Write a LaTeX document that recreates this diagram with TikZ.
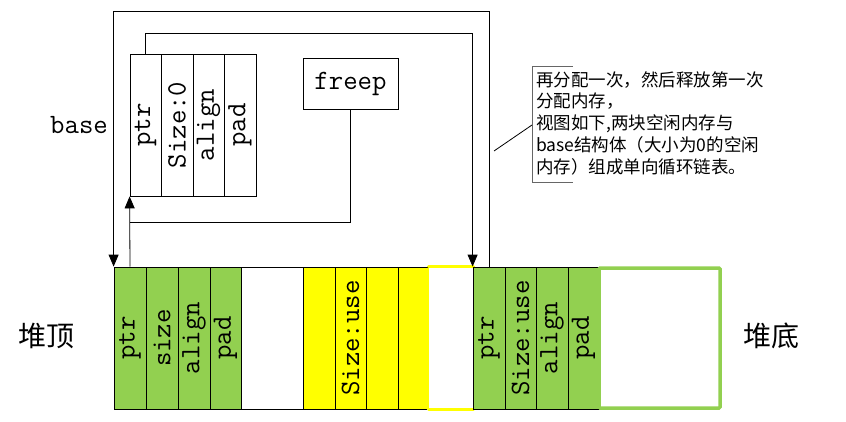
\documentclass[tikz,border=0pt]{standalone}
\usepackage{fontspec}
\newfontfamily\cjk{Noto Sans CJK SC}
\usetikzlibrary{arrows.meta}
\definecolor{cgreen}{HTML}{92D050}
\definecolor{cyellow}{HTML}{FFFF00}
\begin{document}
\begin{tikzpicture}[x=1pt,y=-1pt,
  cell/.style={draw=black, line width=0.8pt, minimum height=142pt, inner sep=0pt,
    font=\ttfamily\fontsize{28}{30}\selectfont},
  gcell/.style={cell, fill=cgreen},
  ycell/.style={cell, fill=cyellow},
  wire/.style={draw=black, line width=0.8pt},
  arr/.style={wire, -{Triangle[length=12pt,width=10pt]}},
  lbl/.style={font=\ttfamily\fontsize{28}{30}\selectfont, inner sep=0pt},
  cjklbl/.style={font=\cjk\fontsize{28}{30}\selectfont, inner sep=0pt}]
\useasboundingbox (0,0) rectangle (846,422);
% helper levels
\coordinate (t1) at (0,11);
\coordinate (t2) at (0,33);
\coordinate (t3) at (0,222);
% base struct
\node[cell, minimum width=31pt] (b1) at (145.5,125) {\rotatebox{90}{ptr}};
\node[cell, minimum width=32pt] (b2) at (177,125) {\rotatebox{90}{Size:0}};
\node[cell, minimum width=31pt] (b3) at (208.5,125) {\rotatebox{90}{align}};
\node[cell, minimum width=32pt] (b4) at (240,125) {\rotatebox{90}{pad}};
\node[lbl] (base) at (79,125) {base};
% freep
\node[cell, minimum width=95pt, minimum height=51pt] (freep) at (350.5,83.5) {freep};
% heap bar
\node[gcell, minimum width=32pt] (g1) at (130,338) {\rotatebox{90}{ptr}};
\node[gcell, minimum width=32pt] (g2) at (162,338) {\rotatebox{90}{size}};
\node[gcell, minimum width=32pt] (g3) at (194,338) {\rotatebox{90}{align}};
\node[gcell, minimum width=31pt] (g4) at (225.5,338) {\rotatebox{90}{pad}};
\node[cell, fill=white, minimum width=62pt] (w1) at (272,338) {};
\node[ycell, minimum width=32pt] (y1) at (319,338) {};
\node[ycell, minimum width=31pt] (y2) at (350.5,338) {\rotatebox{90}{Size:use}};
\node[ycell, minimum width=32pt] (y3) at (382,338) {};
\node[ycell, minimum width=31pt] (y4) at (413.5,338) {};
\node[cell, draw=none, fill=white, minimum width=44pt] (w2) at (451,338) {};
\draw[cyellow, line width=3.5pt, line cap=round] (w2.north west) -- (w2.north east);
\draw[cyellow, line width=3.5pt, line cap=round] (w2.south west) -- (w2.south east);
\node[gcell, minimum width=32pt] (h1) at (489,338) {\rotatebox{90}{ptr}};
\node[gcell, minimum width=31pt] (h2) at (520.5,338) {\rotatebox{90}{Size:use}};
\node[gcell, minimum width=32pt] (h3) at (552,338) {\rotatebox{90}{align}};
\node[gcell, minimum width=31pt] (h4) at (583.5,338) {\rotatebox{90}{pad}};
\node[cell, draw=cgreen, line width=3.5pt, fill=white, minimum width=121pt, minimum height=140pt, rounded corners=1pt] (e) at (659.5,338) {};
\node[cjklbl] (top) at (47,336) {堆顶};
\node[cjklbl] (bottom) at (771,336) {堆底};
% connectors
\draw[arr] (b1.north) -- (b1.north |- t2) -| (h1.north west);
\draw[arr] (h1.north) -- (h1.north |- t1) -| (g1.north west);
\draw[arr] (g1.north) -- (b1.south west);
\draw[wire] (freep.south) |- (g1.north |- t3);
% callout
\node[font=\cjk\fontsize{17.5}{21.8}\selectfont, align=left, anchor=north west, inner sep=0pt] (note) at (536,71)
  {再分配一次，然后释放第一次\\分配内存，\\视图如下,两块空闲内存与\\base结构体（大小为0的空闲\\内存）组成单向循环链表。};
\coordinate (bk1) at (573,67);
\coordinate (bk2) at (532,67);
\coordinate (bk3) at (532,183);
\coordinate (bk4) at (573,183);
\coordinate (bkm) at (532,125);
\coordinate (lead) at (494,151);
\draw[draw=black!60, line width=1pt] (bk1) -- (bk2) -- (bk3) -- (bk4);
\draw[wire] (bkm) -- (lead);
\end{tikzpicture}
\end{document}
